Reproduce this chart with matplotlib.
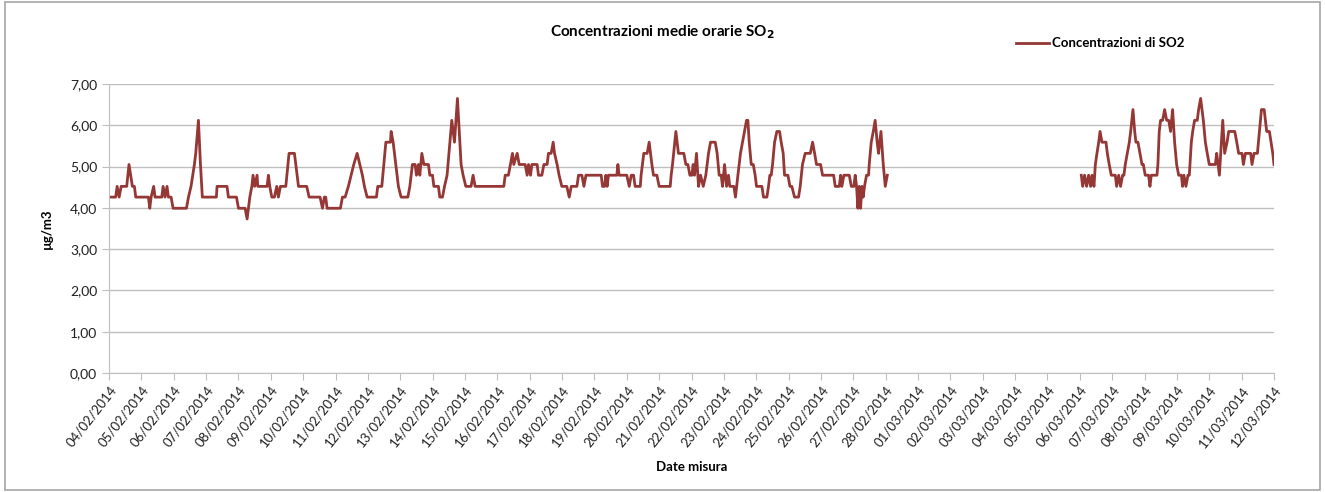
import numpy as np
import pandas as pd
import matplotlib
matplotlib.use("Agg")
import matplotlib.pyplot as plt
from matplotlib.patches import Rectangle

plt.rcParams['font.family'] = ['Lato', 'DejaVu Sans']

# dati: ore dall'inizio (04/02/2014 00:00) e concentrazione in µg/m3
ore = [0, 4.9, 6, 7.5, 9, 10.6, 13.1, 14.8, 17.3, 18.8, 19.8, 29.2, 30.2, 31.2, 33.1, 34.1,
       39.1, 40.1, 41.5, 43, 44, 46, 47.5, 57.4, 58.9, 60.8, 63.3, 64.3, 66.3, 67.8, 69.2,
       79.6, 80.1, 87.5, 88.5, 94.5, 96, 100.9, 102.4, 104.4, 105.9, 106.8, 108, 109.8, 110.3,
       117.2, 118.2, 119.2, 120.7, 122.6, 124.4, 125.6, 127.1, 131.1, 133.5, 137.5,
       140.5, 146.6, 148.4, 156.5, 158.3, 159.7, 160.7, 161.7, 162.7, 171.6, 173.1, 175.1,
       177.5, 179.5, 181.5, 184, 186, 187.9, 189.4, 191.4, 198.3, 199.3, 202.3, 203.8, 205.3,
       208.7, 209.2, 210.7, 212.7, 214.6, 216.6, 221.6, 223.1, 224.1, 225, 227, 228, 229.5,
       230.5, 232, 233.5, 235.7, 236.9, 237.9, 239.9, 240.9, 244.3, 245.3, 246.3, 247.3,
       248.8, 250.7, 254.2, 256.2, 258.4, 260.2, 261.1, 262.6, 264.6, 268.5, 270, 271.5,
       292.8, 293.8, 296.2, 297.7, 299.2, 300.2, 302.7, 304.2, 308.6, 310.1, 311.1, 312.6,
       313.6, 317.5, 318.5, 321, 322.5, 324.9, 325.9, 327.9, 329.4, 330.4, 332.3, 333.8,
       335.8, 339.5, 341.3, 342.8, 347, 348.2, 350.7, 352.2, 353.7, 365, 366, 367.5, 368.5,
       369.4, 370.4, 376.6, 377.4, 378.3, 384, 385.8, 387.3, 389, 390.2, 394, 394.6, 395.6,
       396.6, 399.1, 400.6, 401.6, 402.6, 403.8, 406.3, 408, 416.2, 416.9, 417.9, 420.4,
       422.3, 426.3, 427.8, 429.3, 430.8, 432.3, 433.2, 434.2, 435.7, 437.2, 438.7, 440.7,
       442.6, 444.6, 446.1, 449.6, 451, 452.5, 454, 455, 456.5, 458, 459.4, 460.4, 463.4,
       464.6, 466.4, 468.3, 469.8, 471.3, 472.8, 473.8, 474.8, 476.3, 477.8, 479.2, 480.2,
       484.2, 485.4, 487.9, 489.1, 490.1, 491.1, 492.1, 493.6, 495.3, 497.3, 498.5, 500,
       501, 503.5, 505, 506.4, 508.4, 511.4, 512.6, 514.3, 516.3, 520.1, 521.8, 523.3,
       524.7, 527.7, 529.2, 537.4, 538.6, 541.6, 542.6, 543.5, 545, 549, 550.5, 552.4,
       553.4, 554.4, 555.4, 556.4, 557.4, 558.4, 559.3, 560.3, 561.8, 563.3, 563.8, 565.3,
       566.8, 568.2, 569.7, 570.7, 572.5, 574.2, 575.7, 577.2,
       650,
       721.1, 722.1, 723.5, 725, 726.5, 728, 729, 730.5, 731.5, 732.7, 734, 735, 736.4,
       739.4, 740.4, 741.8, 743.3, 746.3, 747.3, 748.8, 750.2, 751.7, 752.7, 753.7, 755.2,
       756.7, 757.7, 759.4, 760.7, 761.6, 763.1, 764.6, 766.1, 767.1, 768.5, 771, 772, 773,
       777.2, 777.9, 778.9, 779.9, 781.4, 782.9, 784.4, 785.9, 787.3, 788.8, 790.3, 791.8,
       793.3, 795.3, 796.2, 797.2, 798.7, 800.2, 801.2, 802.7, 803.7, 805.1, 807.1, 808.1,
       809.6, 811.6, 813.1, 814.5, 816, 820.5, 821.5, 823.5, 826, 827.4, 829.2, 830.4,
       834.9, 836.4, 837.8, 840.3, 841.3, 842.8, 846.7, 847.7, 849.2, 851.7, 853.2, 854.7,
       856.7, 858.6, 860.6, 863.1, 864]
so2 = [4.26, 4.26, 4.52, 4.26, 4.52, 4.52, 4.52, 5.05, 4.52, 4.52, 4.26, 4.26, 3.99, 4.26, 4.52, 4.26,
       4.26, 4.52, 4.26, 4.52, 4.26, 4.26, 3.99, 3.99, 4.26, 4.52, 5.05, 5.32, 6.12, 5.05, 4.26,
       4.26, 4.52, 4.52, 4.26, 4.26, 3.99, 3.99, 3.73, 4.26, 4.52, 4.79, 4.52, 4.79, 4.52,
       4.52, 4.79, 4.52, 4.26, 4.26, 4.52, 4.26, 4.52, 4.52, 5.32, 5.32,
       4.52, 4.52, 4.26, 4.26, 3.99, 4.26, 4.26, 3.99, 3.99, 3.99, 4.26, 4.26,
       4.52, 4.79, 5.05, 5.32, 5.05, 4.79, 4.52, 4.26, 4.26, 4.52, 4.52, 5.05, 5.59,
       5.59, 5.85, 5.59, 5.05, 4.52, 4.26, 4.26, 4.52, 4.79, 5.05, 5.05, 4.79, 5.05,
       4.79, 5.32, 5.05, 5.05, 5.05, 4.79, 4.79, 4.52, 4.52, 4.26, 4.26, 4.26,
       4.52, 4.79, 6.12, 5.59, 6.65, 5.59, 5.05, 4.79, 4.52, 4.52, 4.79, 4.52,
       4.52, 4.79, 4.79, 5.05, 5.32, 5.05, 5.32, 5.05, 5.05, 4.79, 5.05, 4.79,
       5.05, 5.05, 4.79, 4.79, 5.05, 5.05, 5.32, 5.32, 5.59, 5.32, 5.05, 4.79,
       4.52, 4.52, 4.26, 4.52, 4.52, 4.79, 4.79, 4.52, 4.79, 4.79, 4.52, 4.52, 4.79,
       4.52, 4.79, 4.79, 5.05, 4.79, 4.79, 4.52, 4.79, 4.79, 4.52, 4.52, 4.79, 5.05,
       5.32, 5.32, 5.59, 5.32, 5.05, 4.79, 4.79, 4.52, 4.52, 4.79, 5.05, 5.85,
       5.32, 5.32, 5.05, 5.05, 4.79, 4.79, 5.05, 4.79, 5.32, 4.52, 4.79, 4.52,
       4.79, 5.32, 5.59, 5.59, 5.32, 4.79, 4.79, 4.52, 5.05, 4.52, 4.79, 4.52, 4.52,
       4.26, 4.79, 5.32, 5.59, 5.85, 6.12, 6.12, 5.59, 5.05, 5.05, 4.79, 4.52,
       4.52, 4.26, 4.26, 4.52, 4.79, 4.79, 5.05, 5.59, 5.85, 5.85, 5.59, 5.32,
       4.79, 4.79, 4.52, 4.52, 4.26, 4.26, 4.52, 5.05, 5.32, 5.32, 5.59, 5.32,
       5.05, 5.05, 4.79, 4.79, 4.52, 4.52, 4.79, 4.52, 4.79, 4.79, 4.52, 4.52,
       4.79, 4.52, 3.99, 4.52, 3.99, 4.52, 4.26, 4.52, 4.79, 4.79, 5.05, 5.59,
       5.85, 6.12, 5.59, 5.32, 5.85, 5.05, 4.52, 4.79,
       np.nan,
       4.79, 4.52, 4.79, 4.52, 4.79, 4.52, 4.79, 4.52, 5.05, 5.32, 5.59, 5.85, 5.59,
       5.59, 5.32, 5.05, 4.79, 4.79, 4.52, 4.79, 4.52, 4.79, 4.79, 5.05, 5.32,
       5.59, 5.85, 6.38, 5.85, 5.59, 5.59, 5.32, 5.05, 5.05, 4.79, 4.79, 4.52, 4.79,
       4.79, 5.05, 5.85, 6.12, 6.12, 6.38, 6.12, 6.12, 5.85, 6.38, 5.59, 5.05,
       4.79, 4.79, 4.52, 4.79, 4.52, 4.79, 4.79, 5.59, 5.85, 6.12, 6.12, 6.38,
       6.65, 6.12, 5.59, 5.32, 5.05, 5.05, 5.32, 4.79, 6.12, 5.32, 5.59, 5.85,
       5.85, 5.59, 5.32, 5.32, 5.05, 5.32, 5.32, 5.05, 5.32, 5.32, 5.85, 6.38,
       6.38, 5.85, 5.85, 5.32, 5.05]

giorni = pd.date_range("2014-02-04", "2014-03-12", freq="D")
etichette = [d.strftime("%d/%m/%Y") for d in giorni]
yticks = [0, 1, 2, 3, 4, 5, 6, 7]

colore = '#953735'
grigio = '#bfbfbf'

fig = plt.figure(figsize=(13.25, 4.92), dpi=100)
ax = fig.add_axes([0.0823, 0.2419, 0.8792, 0.5874])

ax.plot(ore, so2, color=colore, lw=2.0, label='Concentrazioni di SO2')

ax.set_xlim(0, 24 * (len(giorni) - 1))
ax.set_ylim(0, 7)
ax.set_xticks([24 * i for i in range(len(giorni))])
ax.set_xticklabels(etichette, rotation=52, ha='right', rotation_mode='anchor', fontsize=9.5)
ax.set_yticks(yticks)
ax.set_yticklabels(['%d,00' % v for v in yticks], fontsize=10)
ax.grid(axis='y', color=grigio, lw=1.0)
ax.set_axisbelow(True)
for s in ['top', 'right']:
    ax.spines[s].set_visible(False)
for s in ['left', 'bottom']:
    ax.spines[s].set_color(grigio)
ax.tick_params(axis='both', colors=grigio, labelcolor='#202020', length=5)
ax.tick_params(axis='x', pad=3)

ax.set_ylabel('µg/m3', fontsize=9.5, fontweight='bold', labelpad=12)
ax.set_xlabel('Date misura', fontsize=9.5, fontweight='bold', labelpad=8)
fig.text(0.5, 0.935, 'Concentrazioni medie orarie SO$_\\mathbf{2}$', ha='center', va='center',
         fontsize=11, fontweight='bold')

fig.legend(loc='center left', bbox_to_anchor=(0.758, 0.912), frameon=False,
           fontsize=9.5, handlelength=2.5, handletextpad=0.2, prop={'weight': 'bold', 'size': 9.5})

fig.patches.append(Rectangle((0.004, 0.004), 0.992, 0.992, transform=fig.transFigure,
                             fill=False, edgecolor='#a6a6a6', lw=1.2))

fig.savefig('out.png', dpi=100)
